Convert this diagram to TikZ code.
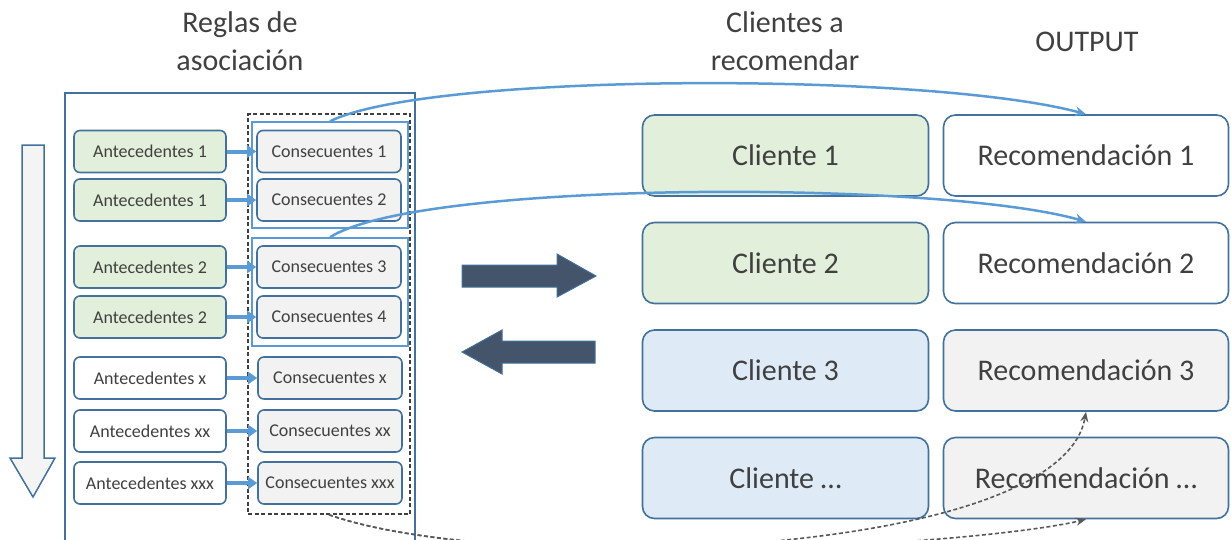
\documentclass[tikz,border=0pt]{standalone}
\usepackage{fontspec}
\setmainfont{Carlito}
\usetikzlibrary{arrows.meta}

\definecolor{borde}{HTML}{41719C}
\definecolor{azul}{HTML}{5B9BD5}
\definecolor{verde}{HTML}{E2EFDA}
\definecolor{celeste}{HTML}{DEEBF7}
\definecolor{gris}{HTML}{F2F2F2}
\definecolor{texto}{HTML}{404040}
\definecolor{pizarra}{HTML}{44546A}
\definecolor{punteo}{HTML}{595959}

\tikzset{
  regla/.style={rectangle, rounded corners=6pt, draw=borde, line width=1.6pt,
    text=texto, font=\fontsize{18}{21}\selectfont, minimum height=42pt, inner sep=2pt},
  ante/.style={regla, minimum width=152pt},
  cons/.style={regla, fill=gris, minimum width=144pt},
  grande/.style={rectangle, rounded corners=12pt, draw=borde, line width=1.6pt,
    text=texto, font=\fontsize{30}{36}\selectfont, minimum width=286pt, minimum height=81pt},
  titulo/.style={align=center, text=texto, font=\fontsize{30}{38}\selectfont},
  grupo/.style={rectangle, draw=azul, line width=1.5pt, inner sep=0pt},
  enlace/.style={draw=azul, line width=4pt, -{Triangle[length=9pt,width=12pt]}},
  curva/.style={draw=azul, line width=2.5pt, -{Stealth[length=11pt,width=10pt]}},
  punteada/.style={draw=punteo, line width=1.6pt, dash pattern=on 4pt off 2.5pt,
    -{Stealth[length=10pt,width=8pt]}},
}

\begin{document}
\begin{tikzpicture}[x=1pt, y=-1pt]
    \useasboundingbox (0, 0) rectangle (1231, 539);
    \clip (0, 0) rectangle (1231, 539);

    % titles
    \node[titulo] (treglas) at (240, 41) {Reglas de\\asociación};
    \node[titulo] (tclientes) at (785, 41) {Clientes a\\recomendar};
    \node[titulo] (tout) at (1087, 42) {OUTPUT};

    % frame of the rules (runs past the lower edge)
    \node[rectangle, draw=borde, line width=1.5pt, minimum width=350pt, minimum height=482pt, inner sep=0pt] (reglas) at (240, 334) {};

    % order of the rules
    \draw[draw=borde, fill=gris!90!black!30!white, line width=1.5pt, line join=miter]
    (22, 145) -- (44, 145) -- (44, 458) -- (55, 458)
    -- (33, 497) -- (10, 458) -- (22, 458) -- cycle;

    % consequents frame and groups
    \node[rectangle, draw=texto, line width=1.5pt, dash pattern=on 4pt off 2.5pt, minimum width=162pt, minimum height=400pt, inner sep=0pt] (marco) at (329, 314) {};
    \node[grupo, minimum width=156pt, minimum height=106pt] (g1) at (330, 175) {};
    \node[grupo, minimum width=156pt, minimum height=108pt] (g2) at (330, 292) {};

    \node[ante, fill=verde] (a1) at (150, 151.5) {Antecedentes 1};
    \node[ante, fill=verde] (a2) at (150, 200) {Antecedentes 1};
    \node[ante, fill=verde] (a3) at (150, 267) {Antecedentes 2};
    \node[ante, fill=verde] (a4) at (150, 317) {Antecedentes 2};
    \node[ante, fill=white] (a5) at (150, 378) {Antecedentes x};
    \node[ante, fill=white] (a6) at (150, 431) {Antecedentes xx};
    \node[ante, fill=white] (a7) at (150, 483) {Antecedentes xxx};

    \node[cons] (c1) at (329, 151.5) {Consecuentes 1};
    \node[cons] (c2) at (329, 200) {Consecuentes 2};
    \node[cons] (c3) at (329, 267) {Consecuentes 3};
    \node[cons] (c4) at (329, 317) {Consecuentes 4};
    \node[cons] (c5) at (330, 378) {Consecuentes x};
    \node[cons] (c6) at (330, 431) {Consecuentes xx};
    \node[cons] (c7) at (330, 483) {Consecuentes xxx};

    \draw[enlace] (a1) -- (c1);
    \draw[enlace] (a2) -- (c2);
    \draw[enlace] (a3) -- (c3);
    \draw[enlace] (a4) -- (c4);
    \draw[enlace] (a5) -- (c5);
    \draw[enlace] (a6) -- (c6);
    \draw[enlace] (a7) -- (c7);

    % exchange arrows
    \draw[draw=borde, fill=pizarra, line width=1pt]
    (462, 265) -- (557, 265) -- (557, 254) -- (596, 276)
    -- (557, 297) -- (557, 287) -- (462, 287) -- cycle;
    \draw[draw=borde, fill=pizarra, line width=1pt]
    (595, 341) -- (502, 341) -- (502, 330) -- (462, 352)
    -- (502, 374) -- (502, 363) -- (595, 363) -- cycle;

    % clients and output
    \node[grande, fill=verde] (cl1) at (785.5, 155.5) {Cliente 1};
    \node[grande, fill=verde] (cl2) at (785.5, 263) {Cliente 2};
    \node[grande, fill=celeste] (cl3) at (785.5, 370.5) {Cliente 3};
    \node[grande, fill=celeste] (cl4) at (785.5, 478) {Cliente …};

    \node[grande, fill=white, minimum width=285pt] (r1) at (1086, 155.5) {Recomendación 1};
    \node[grande, fill=white, minimum width=285pt] (r2) at (1086, 263) {Recomendación 2};
    \node[grande, fill=gris, minimum width=285pt] (r3) at (1086, 370.5) {Recomendación 3};
    \node[grande, fill=gris, minimum width=285pt] (r4) at (1086, 478) {Recomendación …};

    \draw[curva] (g1.north)
    .. controls (430, 72) and (930, 72) .. (r1.north);
    \draw[curva] (g2.north)
    .. controls (420, 180) and (940, 180) .. (r2.north);

    \draw[punteada] (marco.south)
    .. controls (500, 575) and (1060, 560) .. (r3.south);
    \draw[punteada] (marco.south)
    .. controls (500, 575) and (980, 545) .. (r4.south);

\end{tikzpicture}
\end{document}
